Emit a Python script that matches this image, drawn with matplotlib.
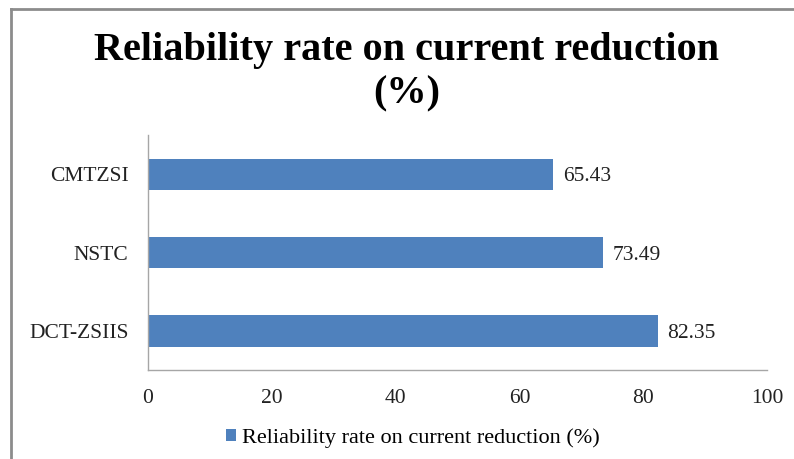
import matplotlib
matplotlib.use("Agg")
import matplotlib.pyplot as plt
from matplotlib.lines import Line2D
from matplotlib.patches import Patch

categories = ["DCT-ZSIIS", "NSTC", "CMTZSI"]
values = [82.35, 73.49, 65.43]
xticks = [0, 20, 40, 60, 80, 100]
series_name = "Reliability rate on current reduction (%)"
title_lines = ["Reliability rate on current reduction", "(%)"]

bar_color = "#4F81BD"
serif = ["Liberation Serif", "DejaVu Serif"]

fig = plt.figure(figsize=(7.94, 4.59), dpi=100)
W, H = 794, 459
ax = fig.add_axes([148 / W, 1 - 370 / H, (767 - 148) / W, (370 - 135) / H])

bars = ax.barh(range(len(categories)), values, height=0.4, color=bar_color)
ax.set_xlim(0, 100)
ax.set_ylim(-0.5, len(categories) - 0.5)
ax.set_yticks(range(len(categories)))
ax.set_yticklabels(categories, family=serif, fontsize=15.5, color="#222222")
ax.set_xticks(xticks)
ax.set_xticklabels([str(t) for t in xticks], family=serif, fontsize=15.5, color="#222222")
ax.tick_params(axis="y", length=0, pad=14)
ax.tick_params(axis="x", length=0, pad=14)
for s in ["top", "right"]:
    ax.spines[s].set_visible(False)
for s in ["left", "bottom"]:
    ax.spines[s].set_color("#A6A6A6")
    ax.spines[s].set_linewidth(1.0)

for i, v in enumerate(values):
    ax.annotate(f"{v:.2f}", xy=(v, i), xytext=(7, 0), textcoords="offset points",
                va="center_baseline", ha="left", family=serif, fontsize=15.5,
                color="#222222")

for line, base_y in zip(title_lines, [60, 103]):
    fig.text(407 / W, 1 - base_y / H, line, ha="center", va="baseline", family=serif,
             fontsize=29, fontweight="bold")

handle = Patch(facecolor=bar_color, edgecolor="none")
fig.legend([handle], [series_name], loc="center", bbox_to_anchor=(413 / W, 1 - 438 / H),
           frameon=False, prop={"family": serif, "size": 16}, handlelength=0.45,
           handleheight=0.45, handletextpad=0.3)

# outer frame (left and top edges visible)
fig.add_artist(Line2D([11 / W, 11 / W], [0, 1 - 9 / H], color="#8C8C8C", lw=2.0,
                      transform=fig.transFigure))
fig.add_artist(Line2D([11 / W, 1], [1 - 9 / H, 1 - 9 / H], color="#8C8C8C", lw=2.0,
                      transform=fig.transFigure))

fig.savefig("out.png", dpi=100)
